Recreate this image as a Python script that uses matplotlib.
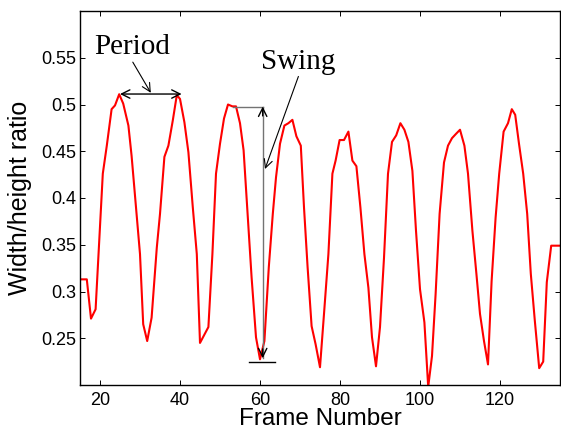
import matplotlib
matplotlib.use('Agg')
import matplotlib.pyplot as plt

# vertices of the red curve
frames = [15.0, 16.7, 17.75, 18.9, 20.7, 21.7, 22.9, 23.75, 24.8, 25.8,
          27.1, 27.9, 29.0, 30.0, 30.8, 31.8, 32.9, 34.2, 35.0, 36.1,
          37.1, 38.2, 39.2, 40.0, 41.1, 42.1, 43.2, 44.2, 45.0, 47.1,
          48.1, 49.0, 50.0, 51.0, 52.0, 53.1, 54.0, 55.0, 55.9, 56.9,
          57.9, 59.0, 60.0, 61.1, 62.2, 63.2, 64.0, 65.0, 66.1, 67.1,
          68.1, 69.1, 70.2, 71.0, 71.9, 72.9, 73.9, 75.0, 76.0, 77.1,
          78.1, 78.9, 79.9, 81.0, 82.1, 83.1, 84.1, 85.1, 86.1, 87.1,
          88.0, 89.0, 90.0, 91.0, 92.0, 93.0, 94.05, 95.1, 96.1, 97.1,
          98.1, 99.0, 100.0, 101.1, 102.05, 103.0, 103.9, 104.9, 106.0, 107.0,
          108.0, 109.0, 110.0, 111.1, 112.0, 113.1, 114.1, 115.0, 116.0, 117.0,
          117.9, 118.9, 119.8, 120.9, 122.0, 122.95, 123.8, 124.75, 125.8, 126.8,
          127.7, 128.7, 129.8, 130.8, 131.7, 132.8, 135.0]
ratio = [0.313, 0.313, 0.271, 0.281, 0.426, 0.456, 0.495, 0.499, 0.511, 0.501,
         0.4775, 0.445, 0.39, 0.34, 0.265, 0.247, 0.272, 0.347, 0.383, 0.444,
         0.456, 0.483, 0.510, 0.506, 0.481, 0.449, 0.39, 0.34, 0.245, 0.262,
         0.34, 0.426, 0.458, 0.485, 0.500, 0.498, 0.498, 0.48, 0.451, 0.383,
         0.315, 0.251, 0.2275, 0.247, 0.326, 0.383, 0.422, 0.458, 0.4775, 0.48,
         0.4836, 0.466, 0.456, 0.39, 0.326, 0.263, 0.2436, 0.219, 0.276, 0.34,
         0.426, 0.44, 0.462, 0.462, 0.471, 0.44, 0.434, 0.39, 0.34, 0.304,
         0.251, 0.220, 0.262, 0.336, 0.426, 0.460, 0.467, 0.480, 0.473, 0.46,
         0.429, 0.365, 0.3025, 0.267, 0.198, 0.231, 0.297, 0.383, 0.438, 0.456,
         0.464, 0.4686, 0.473, 0.456, 0.426, 0.365, 0.319, 0.276, 0.247, 0.222,
         0.311, 0.379, 0.426, 0.471, 0.480, 0.495, 0.489, 0.458, 0.426, 0.383,
         0.319, 0.269, 0.218, 0.225, 0.31, 0.349, 0.349]

xticks = [20, 40, 60, 80, 100, 120]
yticks = [0.25, 0.3, 0.35, 0.4, 0.45, 0.5, 0.55]
ytick_labels = ['0.25', '0.3', '0.35', '0.4', '0.45', '0.5', '0.55']

# annotation anchors (data units)
period_span = (25.0, 40.4, 0.5112)
period_text = (18.5, 0.5543)
period_ptr = ((28.2, 0.5453), (32.7, 0.5125))
swing_x = 60.67
swing_top = 0.4978
swing_bot = 0.2286
swing_peak_x = 53.2
swing_base = (57.25, 63.75, 0.2246)
swing_text = (60.25, 0.5382)
swing_ptr = ((69.6, 0.530), (61.25, 0.431))

plt.rcParams['font.family'] = ['Liberation Sans', 'DejaVu Sans']

fig = plt.figure(figsize=(5.61, 4.32), dpi=100)
ax = fig.add_axes([80 / 561, 47 / 432, 480 / 561, 374 / 432])

ax.plot(frames, ratio, color='red', lw=1.5, clip_on=True)

ax.set_xlim(15, 135)
ax.set_ylim(0.2, 0.6)
ax.set_xticks(xticks)
ax.set_yticks(yticks)
ax.set_yticklabels(ytick_labels)
ax.tick_params(direction='in', length=3.5, width=0.7, labelsize=13,
               top=True, right=True, pad=5)
ax.tick_params(axis='y', pad=3)
for s in ax.spines.values():
    s.set_linewidth(1.0)

ax.set_xlabel('Frame Number', fontsize=17.5, labelpad=-0.5)
ax.set_ylabel('Width/height ratio', fontsize=18)
ax.yaxis.set_label_coords(-0.1, 0.5)

serif = ['Liberation Serif', 'DejaVu Serif']

# Period
x0, x1, yp = period_span
ax.annotate('', xy=(x0, yp), xytext=(x1, yp),
            arrowprops=dict(arrowstyle='<->,head_length=0.6,head_width=0.3',
                            color='black', lw=1.0, shrinkA=0, shrinkB=0))
ax.text(period_text[0], period_text[1], 'Period', family=serif, fontsize=21,
        ha='left', va='baseline')
ax.annotate('', xy=period_ptr[1], xytext=period_ptr[0],
            arrowprops=dict(arrowstyle='->,head_length=0.6,head_width=0.3',
                            color='black', lw=0.8, shrinkA=0, shrinkB=0))

# Swing
ax.plot([swing_peak_x, swing_x], [swing_top, swing_top], color='0.45', lw=1.0)
ax.plot([swing_base[0], swing_base[1]], [swing_base[2], swing_base[2]],
        color='black', lw=1.0)
ax.plot([swing_x, swing_x], [swing_top, swing_bot], color='0.45', lw=1.0)
ax.annotate('', xy=(swing_x, swing_top), xytext=(swing_x, swing_top - 0.01),
            arrowprops=dict(arrowstyle='->,head_length=0.6,head_width=0.3',
                            color='black', lw=1.0, shrinkA=0, shrinkB=0))
ax.annotate('', xy=(swing_x, swing_bot), xytext=(swing_x, swing_bot + 0.01),
            arrowprops=dict(arrowstyle='->,head_length=0.6,head_width=0.3',
                            color='black', lw=1.0, shrinkA=0, shrinkB=0))
ax.text(swing_text[0], swing_text[1], 'Swing', family=serif, fontsize=21,
        ha='left', va='baseline')
ax.annotate('', xy=swing_ptr[1], xytext=swing_ptr[0],
            arrowprops=dict(arrowstyle='->,head_length=0.6,head_width=0.3',
                            color='black', lw=0.8, shrinkA=0, shrinkB=0))

fig.savefig('out.png', dpi=100)
